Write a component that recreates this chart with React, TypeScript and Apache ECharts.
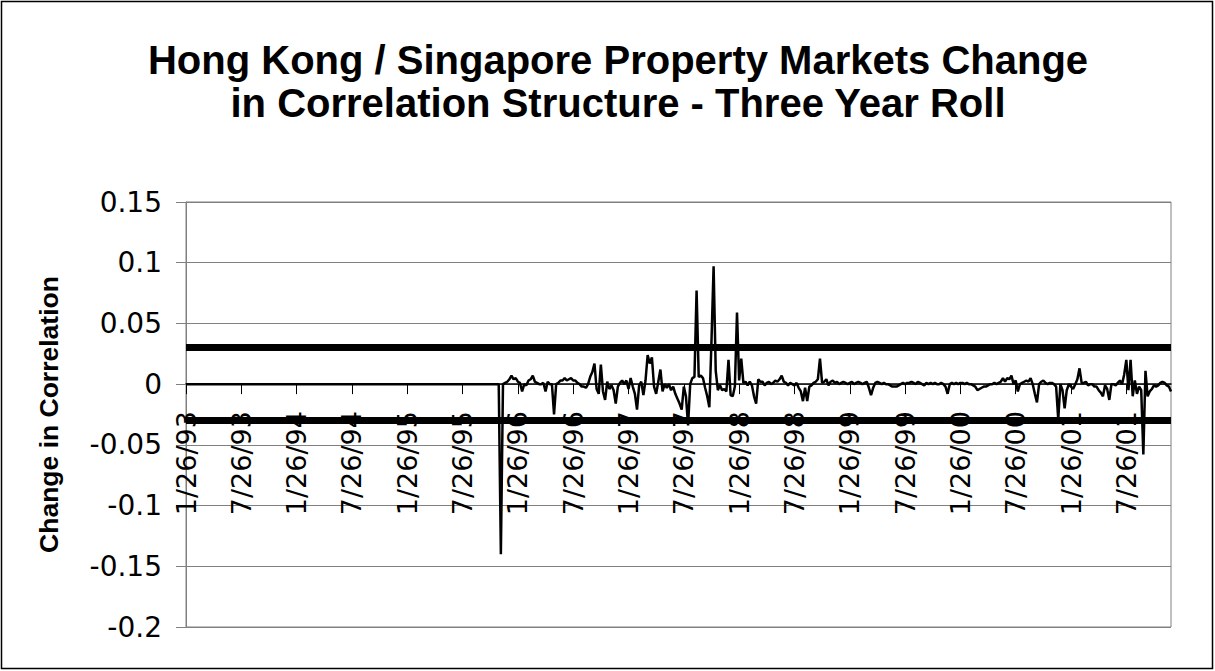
import React, { useEffect, useRef } from "react";
import * as echarts from "echarts";

const titleText =
  "Hong Kong / Singapore Property Markets Change\nin Correlation Structure - Three Year Roll";
const yAxisTitle = "Change in Correlation";

const tickLabels = [
  "1/26/93", "7/26/93", "1/26/94", "7/26/94", "1/26/95", "7/26/95",
  "1/26/96", "7/26/96", "1/26/97", "7/26/97", "1/26/98", "7/26/98",
  "1/26/99", "7/26/99", "1/26/00", "7/26/00", "1/26/01", "7/26/01",
];
const weeksPerTick = 26;

// weeks 0..147: no change (flat)
const flatStart = [
  0, 0, 0, 0, 0, 0, 0, 0, 0, 0, 0, 0, 0, 0, 0, 0, 0, 0, 0, 0,
  0, 0, 0, 0, 0, 0, 0, 0, 0, 0, 0, 0, 0, 0, 0, 0, 0, 0, 0, 0,
  0, 0, 0, 0, 0, 0, 0, 0, 0, 0, 0, 0, 0, 0, 0, 0, 0, 0, 0, 0,
  0, 0, 0, 0, 0, 0, 0, 0, 0, 0, 0, 0, 0, 0, 0, 0, 0, 0, 0, 0,
  0, 0, 0, 0, 0, 0, 0, 0, 0, 0, 0, 0, 0, 0, 0, 0, 0, 0, 0, 0,
  0, 0, 0, 0, 0, 0, 0, 0, 0, 0, 0, 0, 0, 0, 0, 0, 0, 0, 0, 0,
  0, 0, 0, 0, 0, 0, 0, 0, 0, 0, 0, 0, 0, 0, 0, 0, 0, 0, 0, 0,
  0, 0, 0, 0, 0, 0, 0, 0,
];

// weeks 148..463
const changeValues = [
  -0.14,
  0.000, 0.001, 0.002, 0.004, 0.007, 0.004, 0.005, 0.002, 0.001, -0.006,
  0.000, -0.001, 0.003, 0.004, 0.007, 0.002, 0.001, 0.000, 0.000, 0.001,
  -0.006, 0.002, 0.000, 0.000, -0.025, 0.000, 0.001, 0.003, 0.003, 0.005,
  0.003, 0.004, 0.005, 0.003, 0.003, 0.001, 0.000, -0.002, -0.002, -0.003,
  0.000, 0.006, 0.010, 0.017, -0.004, -0.008, 0.016, -0.006, -0.013, 0.002,
  -0.004, -0.001, -0.005, -0.016, -0.002, 0.001, 0.003, 0.000, 0.003, -0.004,
  0.005, -0.002, -0.008, -0.021, -0.001, 0.002, -0.009, 0.003, 0.024, 0.017,
  0.022, -0.002, -0.008, 0.002, 0.012, -0.006, 0.000, -0.003, 0.000, -0.005,
  -0.002, -0.008, -0.012, -0.016, -0.021, -0.002, -0.010, -0.034, 0.000, 0.005,
  0.006, 0.077, 0.006, 0.007, 0.005, -0.003, -0.010, -0.019, 0.035, 0.097,
  0.011, -0.005, -0.001, -0.005, -0.004, -0.006, 0.020, -0.009, -0.010, -0.002,
  0.059, 0.003, 0.021, 0.001, 0.002, -0.001, 0.002, -0.001, -0.010, -0.016,
  0.004, 0.002, 0.002, -0.001, 0.001, 0.002, 0.000, 0.001, 0.003, 0.002,
  0.004, 0.007, 0.002, 0.001, -0.001, 0.001, 0.000, -0.001, 0.001, -0.003,
  -0.006, -0.014, -0.003, -0.014, -0.002, -0.001, 0.001, 0.002, 0.004, 0.021,
  0.001, 0.002, 0.004, -0.001,
  0.002, 0.003, 0.001, 0.002, 0.000, 0.001, 0.002, 0.001, 0.000, 0.001,
  0.002, 0.000, 0.001, 0.002, 0.001, 0.000, 0.001, 0.002, -0.003, -0.009,
  -0.003, 0.001, 0.002, 0.001, 0.000, 0.001, 0.000, 0.000, -0.001, -0.002,
  -0.002, -0.002, -0.001, 0.000, 0.001, 0.000, 0.001, 0.001, 0.002, 0.001,
  0.000, 0.002, 0.001, 0.000, -0.001, 0.001, 0.000, 0.001, 0.000, 0.001,
  0.000, 0.000, 0.001, 0.000, -0.002, -0.008, 0.000, 0.001, 0.000, 0.001,
  0.000, 0.001, 0.001, 0.000, 0.001, 0.000, 0.000, -0.001, -0.002, -0.005,
  -0.004, -0.003, -0.002, -0.002, -0.001, 0.000, 0.000, 0.001, 0.000, 0.001,
  0.002, 0.005, 0.002, 0.005, 0.004, 0.007, 0.000, 0.003, -0.006, 0.000,
  0.001, 0.002, 0.003, 0.002, 0.005, 0.000, -0.008, -0.015, 0.000, 0.002,
  0.003, 0.001, 0.000, 0.001, 0.001, 0.000, -0.002, -0.029, 0.000, -0.005,
  -0.020, -0.005, 0.000, -0.002, -0.004, 0.000, 0.004, 0.013, 0.001, 0.001,
  0.002, -0.001, 0.000, 0.000, -0.002, -0.002, -0.005, -0.007, -0.010, -0.001,
  -0.004, -0.013, 0.000, 0.000, -0.001, 0.001, 0.003, 0.000, 0.008, 0.020,
  -0.005, 0.020, -0.010, 0.003, -0.008, -0.002, -0.005, -0.058, 0.011, -0.010,
  -0.006, -0.004, -0.001, -0.002, -0.001, 0.001, 0.002, 0.001, -0.001, -0.002, -0.006,
];

const upperBand = 0.03;
const lowerBand = -0.03;
const yMin = -0.2;
const yMax = 0.15;
const yStep = 0.05;

const seriesValues = [...flatStart, ...changeValues];
const categories = seriesValues.map((_, i) =>
  i % weeksPerTick === 0 && tickLabels[i / weeksPerTick] ? tickLabels[i / weeksPerTick] : ""
);

const GRID_TOP = 202;
const GRID_BOTTOM = 44;
const CHART_H = 671;

export default function App() {
  const ref = useRef<HTMLDivElement>(null);
  useEffect(() => {
    if (!ref.current) return;
    const chart = echarts.init(ref.current, undefined, { renderer: "svg" });
    const gridH = CHART_H - GRID_TOP - GRID_BOTTOM;
    // shift the x axis up from the grid bottom to the zero line
    const zeroOffset = -((0 - yMin) / (yMax - yMin)) * gridH;
    chart.setOption({
      animation: false,
      backgroundColor: "#ffffff",
      title: {
        text: titleText,
        left: 613,
        top: 33,
        textAlign: "center",
        textStyle: {
          fontFamily: "Liberation Sans, Arial, sans-serif",
          fontWeight: "bold",
          fontSize: 40,
          lineHeight: 43,
          color: "#000",
        },
      },
      graphic: [
        {
          type: "rect",
          shape: { x: 1.5, y: 1.5, width: 1211, height: 667 },
          style: { fill: "none", stroke: "#000", lineWidth: 1.5 },
          silent: true,
        },
      ],
      grid: {
        left: 186,
        right: 44,
        top: GRID_TOP,
        bottom: GRID_BOTTOM,
        show: true,
        borderColor: "#808080",
        borderWidth: 1,
        outerBoundsMode: "none",
        containLabel: false,
      },
      xAxis: {
        type: "category",
        data: categories,
        boundaryGap: false,
        position: "bottom",
        offset: zeroOffset,
        axisLine: { onZero: false, lineStyle: { color: "#000", width: 1.5 } },
        axisTick: { show: true, interval: weeksPerTick - 1, length: 10, lineStyle: { color: "#000" } },
        axisLabel: {
          interval: weeksPerTick - 1,
          rotate: 90,
          margin: 27,
          fontFamily: "DejaVu Sans",
          fontSize: 27,
          color: "#000",
        },
        splitLine: { show: false },
      },
      yAxis: {
        type: "value",
        min: yMin,
        max: yMax,
        interval: yStep,
        name: yAxisTitle,
        nameLocation: "middle",
        nameRotate: 90,
        nameGap: 124,
        nameTextStyle: {
          fontFamily: "Liberation Sans, Arial, sans-serif",
          fontWeight: "bold",
          fontSize: 26.5,
          color: "#000",
        },
        axisLine: { show: true, lineStyle: { color: "#808080" } },
        axisTick: { show: true, length: 10, lineStyle: { color: "#808080" } },
        axisLabel: {
          margin: 24,
          fontFamily: "DejaVu Sans",
          fontSize: 28,
          color: "#000",
        },
        splitLine: { show: true, lineStyle: { color: "#808080", width: 1 } },
      },
      series: [
        {
          type: "line",
          data: seriesValues,
          showSymbol: false,
          symbol: "none",
          lineStyle: { color: "#000", width: 2.5 },
          markLine: {
            silent: true,
            symbol: ["none", "none"],
            label: { show: false },
            lineStyle: { color: "#000", width: 7, type: "solid" },
            data: [{ yAxis: upperBand }, { yAxis: lowerBand }],
          },
        },
      ],
    });
    return () => chart.dispose();
  }, []);
  return (
    <div
      ref={ref}
      style={{ position: "fixed", left: 0, top: 0, width: 1215, height: 671, background: "#fff" }}
    />
  );
}
